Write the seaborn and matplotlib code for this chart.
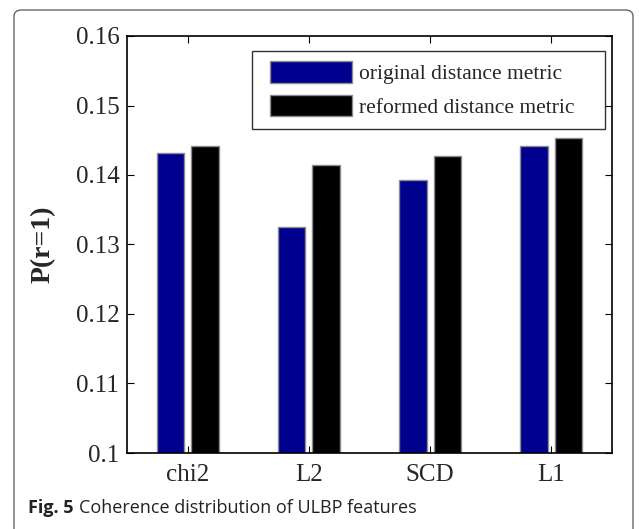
import pandas as pd
import matplotlib.pyplot as plt
import seaborn as sns
from matplotlib.patches import FancyBboxPatch, Patch, Rectangle
from matplotlib.legend_handler import HandlerPatch

sns.set_theme(style="white")
plt.rcParams['font.family'] = ['Liberation Serif', 'DejaVu Serif']

# data
metrics = ["chi2", "L2", "SCD", "L1"]
original = [0.1432, 0.1325, 0.1393, 0.1442]
reformed = [0.1442, 0.1414, 0.1428, 0.1453]
series = ["original distance metric", "reformed distance metric"]
colors = ["#00008F", "#000000"]
yticks = [0.1, 0.11, 0.12, 0.13, 0.14, 0.15, 0.16]

df = pd.DataFrame({
    "metric": metrics * 2,
    "value": original + reformed,
    "series": [series[0]] * 4 + [series[1]] * 4,
})

fig = plt.figure(figsize=(6.39, 5.29), dpi=100)
ax = fig.add_axes([127 / 639, 1 - 453 / 529, 485 / 639, 417 / 529])

sns.barplot(data=df, x="metric", y="value", hue="series", hue_order=series,
            palette=colors, saturation=1, width=0.57, gap=0.2,
            edgecolor="#8c8c8c", linewidth=1.0, ax=ax, legend=False)

ax.set_xlim(-0.5, 3.5)
ax.set_ylim(0.1, 0.16)
ax.set_yticks(yticks)
ax.set_yticklabels([f"{t:g}" for t in yticks])
ax.set_xlabel("")
ax.set_ylabel("P(r=1)", fontsize=20, fontweight="bold", labelpad=14)
ax.tick_params(direction="in", length=5, width=0.8, top=True, right=True,
               bottom=True, left=True, labelsize=18, color="black", pad=5.5)
ax.tick_params(axis="x", pad=8)
for s in ax.spines.values():
    s.set_color("black")
    s.set_linewidth(1.2)


# MATLAB-style legend: swatch a bit inset from the left edge of the box
def inset_swatch(legend, orig_handle, xdescent, ydescent, width, height, fontsize):
    off = 0.33 * fontsize
    return Rectangle((-xdescent + off, -ydescent), width - off, height)


handles = [Patch(facecolor=c, edgecolor="#8c8c8c", linewidth=1.0) for c in colors]
leg = ax.legend(handles, series, loc="upper left",
                bbox_to_anchor=(0.257, 0.5, 0.7286, 0.4648), mode="expand",
                borderaxespad=0, fontsize=15.5, handlelength=4.14, handleheight=1.13,
                fancybox=False, frameon=True, labelspacing=0.5, handletextpad=0.37,
                borderpad=0.5,
                handler_map={Patch: HandlerPatch(patch_func=inset_swatch)})
leg.get_frame().set_edgecolor("black")
leg.get_frame().set_linewidth(1.0)

# caption and rounded border
fig.text(28 / 639, 1 - 508 / 529, "Fig. 5", fontsize=13, fontweight="bold",
         family=["Open Sans", "DejaVu Sans"], va="center", color="#222222")
fig.text(79 / 639, 1 - 508 / 529, "Coherence distribution of ULBP features", fontsize=13,
         family=["Open Sans", "DejaVu Sans"], va="center", color="#222222")
border = FancyBboxPatch((14 / 639, -0.05), 619 / 639, 1.05 - 10 / 529,
                        boxstyle="round,pad=0,rounding_size=0.012",
                        transform=fig.transFigure, fill=False,
                        edgecolor="#666666", linewidth=1.0)
fig.patches.append(border)

fig.savefig("out.png", dpi=100)
